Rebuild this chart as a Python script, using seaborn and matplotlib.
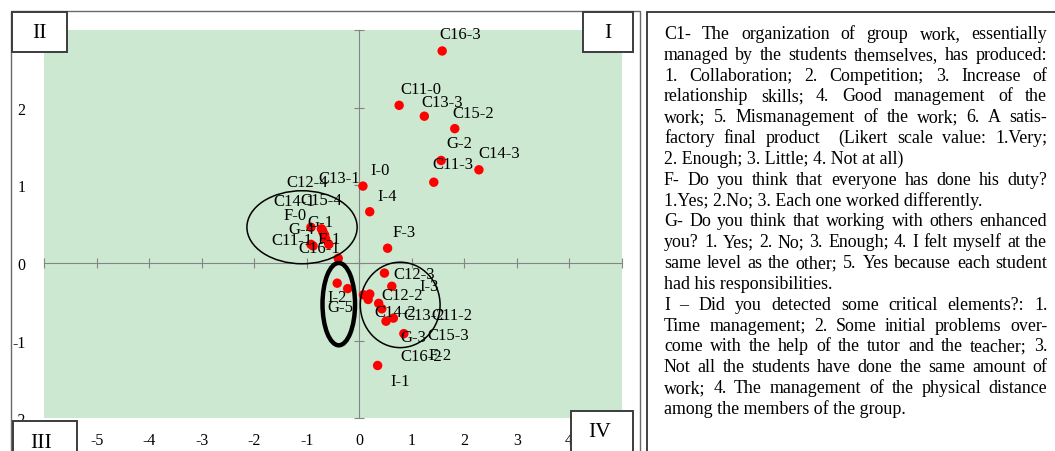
import re
import matplotlib
matplotlib.use("Agg")
import matplotlib.pyplot as plt
from matplotlib.patches import Ellipse, Rectangle
from matplotlib.font_manager import FontProperties
import seaborn as sns
import pandas as pd

# ---------------- data ----------------
labels = ["C11-0", "C11-1", "C11-2", "C11-3", "C12-2", "C12-3", "C12-4",
          "C13-1", "C13-2", "C13-3", "C14-1", "C14-2", "C14-3",
          "C15-2", "C15-3", "C15-4", "C16-1", "C16-2", "C16-3",
          "F-0", "F-1", "F-2", "F-3",
          "G-1", "G-2", "G-3", "G-4", "G-5",
          "I-0", "I-1", "I-2", "I-3", "I-4"]
x_vals = [0.76, -0.92, 0.08, 1.42, 0.20, 0.48, -0.70,
          -0.40, 0.65, 1.24, -0.66, 0.51, 2.28,
          1.82, 0.17, -0.64, -0.88, 0.43, 1.58,
          -0.68, -0.58, 0.37, 0.54,
          -0.72, 1.56, 0.85, -0.92, -0.22,
          0.07, 0.35, -0.42, 0.62, 0.20]
y_vals = [2.03, 0.24, -0.41, 1.04, -0.40, -0.13, 0.42,
          0.06, -0.71, 1.89, 0.36, -0.75, 1.20,
          1.73, -0.47, 0.31, 0.22, -0.59, 2.73,
          0.38, 0.24, -0.52, 0.19,
          0.44, 1.32, -0.91, 0.46, -0.33,
          0.99, -1.32, -0.26, -0.30, 0.66]

x_ticks = [-6, -5, -4, -3, -2, -1, 0, 1, 2, 3, 4, 5]
y_ticks = [-2, -1, 0, 1, 2, 3]
quadrants = ["II", "I", "III", "IV"]

panel_lines = [
    "C1- The organization of group work, essentially",
    "managed by the students themselves, has produced:",
    "1. Collaboration; 2. Competition; 3. Increase of",
    "relationship skills; 4. Good management of the",
    "work; 5. Mismanagement of the work; 6. A satis-",
    "factory final product  (Likert scale value: 1.Very;",
    "2. Enough; 3. Little; 4. Not at all)",
    "F- Do you think that everyone has done his duty?",
    "1.Yes; 2.No; 3. Each one worked differently.",
    "G- Do you think that working with others enhanced",
    "you? 1. Yes; 2. No; 3. Enough; 4. I felt myself at the",
    "same level as the other; 5. Yes because each student",
    "had his responsibilities.",
    "I \u2013 Did you detected some critical elements?: 1.",
    "Time management; 2. Some initial problems over-",
    "come with the help of the tutor and the teacher; 3.",
    "Not all the students have done the same amount of",
    "work; 4. The management of the physical distance",
    "among the members of the group.",
]
panel_justify = [True, True, True, True, True, True, False,
                 True, False,
                 True, True, True, False,
                 True, True, True, True, True, False]

# ---------------- layout / style (not data) ----------------
label_dx = [1, -40, 68, -1, 12, 9, -36,
            -20, 10, -3, -51, -12, -1,
            -2, 59, -25, -15, 19, -3,
            -40, -11, 50, 5,
            -14, 5, -3, -23, -20,
            7, 13, -10, 28, 8]
label_dy = [16, 4, -20, 18, -1, -1, 48,
            80, 3, 14, 34, 9, 17,
            16, -36, 39, -2, -47, 17,
            18, 5, -52, 16,
            7, 17, -3, -2, -18,
            16, -16, -14, 0, 16]

W, H = 1055, 452
GREEN = "#cde8d0"
GREY = "#858585"
BOX = "#3c3c3c"

sns.set_style("white")
plt.rcParams["font.family"] = ["Liberation Serif", "DejaVu Serif"]

fig = plt.figure(figsize=(W / 100, H / 100), dpi=100)
fig.patch.set_facecolor("white")


def fx(x):
    return x / W


def fy(y):
    return 1 - y / H


ax = fig.add_axes([fx(44.3), fy(419.3), (621.7 - 44.3) / W, (419.3 - 31) / H])
ax.set_facecolor(GREEN)

df = pd.DataFrame({"label": labels, "x": x_vals, "y": y_vals})
sns.scatterplot(data=df, x="x", y="y", ax=ax, color="#ff0000", s=46,
                edgecolor="none", linewidth=0, zorder=3, legend=False)

ax.set_xlim(x_ticks[0], x_ticks[-1])
ax.set_ylim(y_ticks[0], y_ticks[-1])
ax.set_xticks(x_ticks)
ax.set_yticks(y_ticks)
ax.set_xticklabels([str(t) for t in x_ticks])
ax.set_yticklabels([str(t) for t in y_ticks])
ax.set_xlabel("")
ax.set_ylabel("")
for sp in ax.spines.values():
    sp.set_visible(False)
ax.tick_params(length=0, labelsize=11.5, colors="black")
ax.tick_params(axis="x", pad=10)
ax.tick_params(axis="y", pad=13.5)
ax.grid(False)

# crossing axes through the origin
xl, yl = ax.get_xlim(), ax.get_ylim()
y0 = (0 - yl[0]) / (yl[1] - yl[0])
x0 = (0 - xl[0]) / (xl[1] - xl[0])
secx = ax.secondary_xaxis(y0)
secx.set_xticks(x_ticks)
secx.tick_params(direction="inout", length=7, width=0.8, color=GREY,
                 labelbottom=False, labeltop=False)
secy = ax.secondary_yaxis(x0)
secy.set_yticks(y_ticks)
secy.tick_params(direction="inout", length=7, width=0.8, color=GREY,
                 labelleft=False, labelright=False)
for sec in (secx, secy):
    sec.patch.set_visible(False)
    for sp in sec.spines.values():
        sp.set_color(GREY)
        sp.set_linewidth(0.8)

# point labels
for lab, x, y, dx, dy in zip(labels, x_vals, y_vals, label_dx, label_dy):
    ax.annotate(lab, (x, y), xytext=(dx, dy), textcoords="offset pixels",
                ha="left", va="center", fontsize=12, color="black",
                zorder=4, annotation_clip=False)

# highlight ellipses
ax.add_patch(Ellipse((-1.09, 0.46), 2.10, 0.94, fill=False, ec="black", lw=1.1, zorder=5))
ax.add_patch(Ellipse((0.78, -0.54), 1.52, 1.10, fill=False, ec="black", lw=1.1, zorder=5))
ax.add_patch(Ellipse((-0.39, -0.53), 0.62, 1.06, fill=False, ec="black", lw=3.2, zorder=5))

# chart frame
fig.add_artist(Rectangle((fx(10.7), fy(470)), (640 - 10.7) / W, (470 - 11.7) / H,
                         transform=fig.transFigure, fill=False, ec="#6a6a6a", lw=1.0, zorder=1))
# text panel frame
fig.add_artist(Rectangle((fx(647), fy(470)), (1070 - 647) / W, (470 - 13.3) / H,
                         transform=fig.transFigure, fill=False, ec="#333333", lw=1.3, zorder=1))

# quadrant boxes
boxes = [(12.3, 13.3, 67.3, 53.3, 39.8, 33.5),
         (582.7, 13.3, 632.7, 53.3, 607.7, 33.5),
         (12.6, 421.7, 76.6, 470, 41, 444),
         (570.7, 411.7, 632.7, 470, 600, 433)]
for name, (l, t, r, b, cx, cy) in zip(quadrants, boxes):
    fig.add_artist(Rectangle((fx(l), fy(b)), (r - l) / W, (b - t) / H,
                             transform=fig.transFigure, fc="white", ec=BOX, lw=1.4, zorder=6))
    fig.text(fx(cx), fy(cy), name, ha="center", va="center", fontsize=15.5,
             color="black", zorder=7)

# justified text panel
renderer = fig.canvas.get_renderer()
fs = 12.9
fp = FontProperties(family=["Liberation Serif"], size=fs)
left_px, right_px = 664, 1047.3
base0, step = 39.0, 20.83


def wwidth(s):
    w, h, d = renderer.get_text_width_height_descent(s, fp, ismath=False)
    return w


for i, (line, just) in enumerate(zip(panel_lines, panel_justify)):
    yb = base0 + i * step
    if not just:
        fig.text(fx(left_px), fy(yb), line, ha="left", va="baseline",
                 fontproperties=fp, color="black")
        continue
    parts = re.split(r"( +)", line)
    words = parts[0::2]
    gaps = [len(g) for g in parts[1::2]]
    total = sum(wwidth(w) for w in words)
    unit = ((right_px - left_px) - total) / max(sum(gaps), 1)
    x = left_px
    for k, w in enumerate(words):
        fig.text(fx(x), fy(yb), w, ha="left", va="baseline",
                 fontproperties=fp, color="black")
        x += wwidth(w)
        if k < len(gaps):
            x += unit * gaps[k]

fig.savefig("out.png", dpi=100)
